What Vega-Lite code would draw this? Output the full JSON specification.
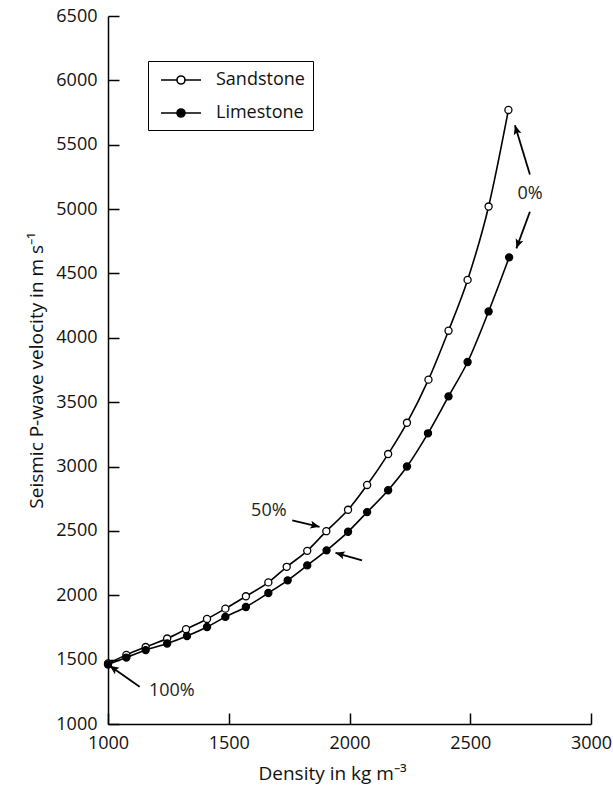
{
  "$schema": "https://vega.github.io/schema/vega-lite/v6.json",
  "width": 483,
  "height": 708,
  "autosize": {"type": "none"},
  "padding": {"left": 108, "top": 16, "right": 22, "bottom": 67},
  "background": "white",
  "config": {
    "font": "Open Sans",
    "view": {"stroke": null},
    "axis": {
      "grid": false,
      "domainColor": "black",
      "domainWidth": 1.5,
      "tickColor": "black",
      "tickWidth": 1.5,
      "tickSize": -11,
      "labelColor": "#111",
      "labelFontSize": 18,
      "labelFont": "Open Sans",
      "labelFlush": false,
      "labelOverlap": false,
      "titleFont": "Open Sans",
      "titleFontSize": 19,
      "titleFontWeight": "normal",
      "titleColor": "#111",
      "format": "d"
    },
    "legend": {
      "labelFont": "Open Sans",
      "labelFontSize": 18,
      "labelColor": "#111"
    }
  },
  "datasets": {
    "curves": [
      {"rock": "Sandstone", "density": 1000, "velocity": 1470},
      {"rock": "Sandstone", "density": 1076, "velocity": 1537},
      {"rock": "Sandstone", "density": 1156, "velocity": 1598},
      {"rock": "Sandstone", "density": 1245, "velocity": 1664},
      {"rock": "Sandstone", "density": 1323, "velocity": 1736},
      {"rock": "Sandstone", "density": 1410, "velocity": 1816},
      {"rock": "Sandstone", "density": 1486, "velocity": 1896},
      {"rock": "Sandstone", "density": 1571, "velocity": 1992},
      {"rock": "Sandstone", "density": 1664, "velocity": 2100},
      {"rock": "Sandstone", "density": 1740, "velocity": 2221},
      {"rock": "Sandstone", "density": 1825, "velocity": 2345},
      {"rock": "Sandstone", "density": 1904, "velocity": 2498},
      {"rock": "Sandstone", "density": 1994, "velocity": 2664},
      {"rock": "Sandstone", "density": 2073, "velocity": 2857},
      {"rock": "Sandstone", "density": 2160, "velocity": 3097},
      {"rock": "Sandstone", "density": 2238, "velocity": 3340},
      {"rock": "Sandstone", "density": 2327, "velocity": 3675},
      {"rock": "Sandstone", "density": 2410, "velocity": 4055},
      {"rock": "Sandstone", "density": 2489, "velocity": 4450},
      {"rock": "Sandstone", "density": 2576, "velocity": 5020},
      {"rock": "Sandstone", "density": 2658, "velocity": 5770},
      {"rock": "Limestone", "density": 1000, "velocity": 1462},
      {"rock": "Limestone", "density": 1076, "velocity": 1516},
      {"rock": "Limestone", "density": 1156, "velocity": 1574},
      {"rock": "Limestone", "density": 1245, "velocity": 1625},
      {"rock": "Limestone", "density": 1327, "velocity": 1684},
      {"rock": "Limestone", "density": 1410, "velocity": 1754},
      {"rock": "Limestone", "density": 1486, "velocity": 1832},
      {"rock": "Limestone", "density": 1571, "velocity": 1909},
      {"rock": "Limestone", "density": 1664, "velocity": 2018},
      {"rock": "Limestone", "density": 1744, "velocity": 2116},
      {"rock": "Limestone", "density": 1825, "velocity": 2232},
      {"rock": "Limestone", "density": 1905, "velocity": 2349},
      {"rock": "Limestone", "density": 1994, "velocity": 2493},
      {"rock": "Limestone", "density": 2073, "velocity": 2646},
      {"rock": "Limestone", "density": 2160, "velocity": 2816},
      {"rock": "Limestone", "density": 2238, "velocity": 3000},
      {"rock": "Limestone", "density": 2325, "velocity": 3258},
      {"rock": "Limestone", "density": 2410, "velocity": 3545},
      {"rock": "Limestone", "density": 2489, "velocity": 3812},
      {"rock": "Limestone", "density": 2576, "velocity": 4205},
      {"rock": "Limestone", "density": 2661, "velocity": 4625}
    ],
    "arrows": [
      {"label": "0% up", "x1": 2747, "y1": 5268, "x2": 2685, "y2": 5651, "dir": 343},
      {"label": "0% down", "x1": 2747, "y1": 4979, "x2": 2691, "y2": 4695, "dir": 200},
      {"label": "50%", "x1": 1763, "y1": 2581, "x2": 1876, "y2": 2532, "dir": 103},
      {"label": "50% limestone", "x1": 2052, "y1": 2271, "x2": 1942, "y2": 2330, "dir": 286},
      {"label": "100%", "x1": 1131, "y1": 1289, "x2": 1007, "y2": 1452, "dir": 305}
    ],
    "notes": [
      {"text": "0%", "density": 2748, "velocity": 5121},
      {"text": "50%", "density": 1666, "velocity": 2657},
      {"text": "100%", "density": 1264, "velocity": 1259}
    ]
  },
  "layer": [
    {
      "data": {"name": "curves"},
      "mark": {"type": "line", "color": "black", "strokeWidth": 1.6, "interpolate": "monotone"},
      "encoding": {
        "x": {
          "field": "density", "type": "quantitative",
          "scale": {"domain": [1000, 3000], "nice": false, "zero": false},
          "axis": {"values": [1000, 1500, 2000, 2500, 3000], "title": "Density in kg m⁻³", "labelPadding": 21, "titlePadding": 12, "titleX": 224}
        },
        "y": {
          "field": "velocity", "type": "quantitative",
          "scale": {"domain": [1000, 6500], "nice": false, "zero": false},
          "axis": {"values": [1000, 1500, 2000, 2500, 3000, 3500, 4000, 4500, 5000, 5500, 6000, 6500], "title": "Seismic P-wave velocity in m s⁻¹", "labelPadding": 22, "titlePadding": 9}
        },
        "detail": {"field": "rock"}
      }
    },
    {
      "data": {"name": "curves"},
      "mark": {"type": "point", "filled": true, "stroke": "black", "strokeWidth": 1.3, "size": 50, "opacity": 1},
      "encoding": {
        "x": {"field": "density", "type": "quantitative"},
        "y": {"field": "velocity", "type": "quantitative"},
        "fill": {
          "field": "rock", "type": "nominal",
          "scale": {"domain": ["Sandstone", "Limestone"], "range": ["white", "black"]},
          "legend": {
            "title": null,
            "orient": "none",
            "legendX": 40,
            "legendY": 45,
            "strokeColor": "black",
            "padding": 8,
            "symbolType": "M-2,0H-0.4M0.4,0H2M0.4,0A0.4,0.4,0,1,1,-0.4,0A0.4,0.4,0,1,1,0.4,0",
            "symbolSize": 400,
            "symbolStrokeColor": "black",
            "symbolStrokeWidth": 1.6,
            "symbolOffset": 14,
            "labelOffset": 24,
            "rowPadding": 13
          }
        },
        "order": {"field": "rock", "sort": "descending"}
      }
    },
    {
      "data": {"name": "arrows"},
      "mark": {"type": "rule", "color": "black", "strokeWidth": 1.8},
      "encoding": {
        "x": {"field": "x1", "type": "quantitative"},
        "y": {"field": "y1", "type": "quantitative"},
        "x2": {"field": "x2"},
        "y2": {"field": "y2"}
      }
    },
    {
      "data": {"name": "arrows"},
      "mark": {"type": "point", "filled": true, "color": "black", "shape": "M0,0L1,2.3L0,1.8L-1,2.3Z", "size": 64, "opacity": 1},
      "encoding": {
        "x": {"field": "x2", "type": "quantitative"},
        "y": {"field": "y2", "type": "quantitative"},
        "angle": {"field": "dir", "type": "quantitative", "scale": null}
      }
    },
    {
      "data": {"name": "notes"},
      "mark": {"type": "text", "font": "Open Sans", "fontSize": 18, "color": "#222", "align": "center", "baseline": "middle"},
      "encoding": {
        "x": {"field": "density", "type": "quantitative"},
        "y": {"field": "velocity", "type": "quantitative"},
        "text": {"field": "text"}
      }
    }
  ]
}
